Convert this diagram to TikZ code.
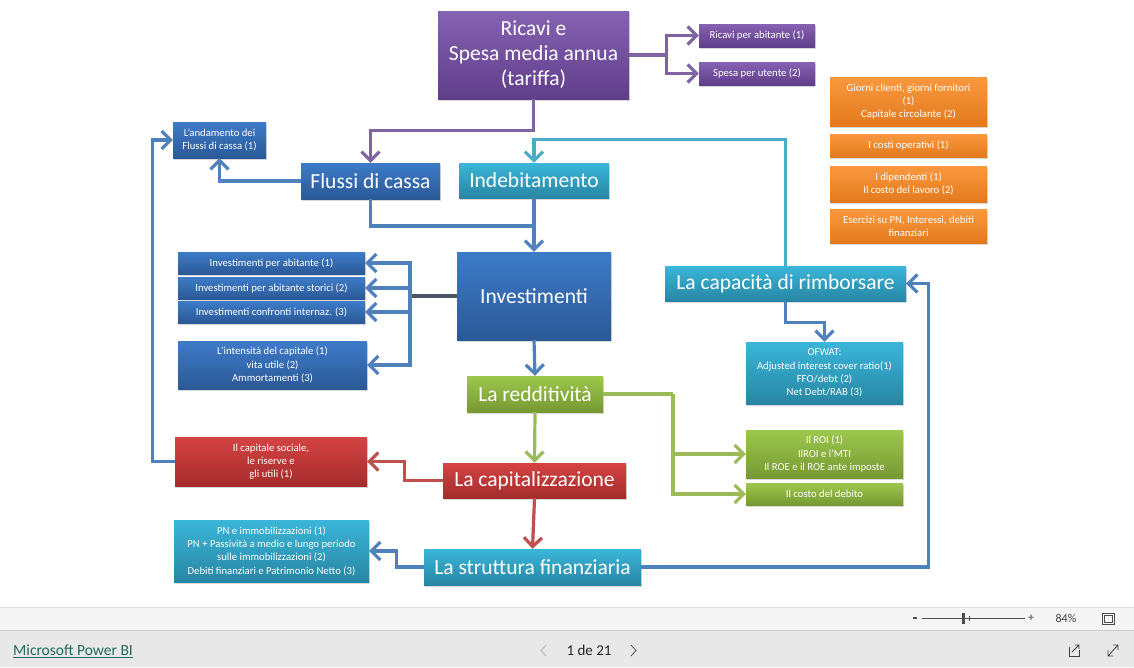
\documentclass[tikz,border=0pt]{standalone}
\usepackage{fontspec}
\setmainfont{Carlito}
\usepackage{tikz}
\usetikzlibrary{arrows.meta,shadows}
\definecolor{purpleT}{HTML}{8662B2}
\definecolor{purpleB}{HTML}{5F3E8A}
\definecolor{blueT}{HTML}{3D7BC8}
\definecolor{blueB}{HTML}{2B5997}
\definecolor{cyanT}{HTML}{3AB6D9}
\definecolor{cyanB}{HTML}{2886A4}
\definecolor{greenT}{HTML}{9DC74C}
\definecolor{greenB}{HTML}{769933}
\definecolor{redT}{HTML}{D54343}
\definecolor{redB}{HTML}{A42C2C}
\definecolor{orangeT}{HTML}{FA983F}
\definecolor{orangeB}{HTML}{E37A1D}
\definecolor{linkpurple}{HTML}{8064A2}
\definecolor{linkblue}{HTML}{4F81BD}
\definecolor{linkcyan}{HTML}{4BACC6}
\definecolor{linkgreen}{HTML}{9BBB59}
\definecolor{linkred}{HTML}{C0504D}
\definecolor{splitgray}{HTML}{4A5866}
\definecolor{pbigreen}{HTML}{1F6B5C}
\tikzstyle{basebox}=[rectangle,%
                     text=white,%
                     align=center,%
                     inner sep=1pt,%
                     drop shadow={opacity=0.3,shadow xshift=1.2pt,shadow yshift=-1.6pt}]
\tikzstyle{bignode}=[basebox, font=\fontsize{21.5}{25}\selectfont]
\tikzstyle{smallnode}=[basebox, font=\fontsize{10.7}{13.3}\selectfont]
\tikzstyle{purplebox}=[top color=purpleT, bottom color=purpleB]
\tikzstyle{bluebox}=[top color=blueT, bottom color=blueB]
\tikzstyle{cyanbox}=[top color=cyanT, bottom color=cyanB]
\tikzstyle{greenbox}=[top color=greenT, bottom color=greenB]
\tikzstyle{redbox}=[top color=redT, bottom color=redB]
\tikzstyle{orangebox}=[top color=orangeT, bottom color=orangeB]
\tikzstyle{plain}=[line width=3.2pt]
\tikzstyle{link}=[plain, -{Straight Barb[length=9pt,width=18pt]}]

\begin{document}
\begin{tikzpicture}[x=1pt,y=-1pt]
            \useasboundingbox (0,0) rectangle (1134,667);
            \fill[white] (0,0) rectangle (1134,607);

            \node[bignode,purplebox,minimum width=191pt,minimum height=88pt] (ricavi) at (533.5,55) {Ricavi e\\Spesa media annua\\(tariffa)};
            \node[smallnode,purplebox,minimum width=116pt,minimum height=23pt] (rpa) at (757,35.5) {Ricavi per abitante (1)};
            \node[smallnode,purplebox,minimum width=116pt,minimum height=23pt] (spu) at (757,73.5) {Spesa per utente (2)};

            \node[smallnode,orangebox,minimum width=157pt,minimum height=49pt] (giorni) at (908.5,101.5) {Giorni clienti, giorni fornitori\\(1)\\Capitale circolante (2)};
            \node[smallnode,orangebox,minimum width=157pt,minimum height=23pt] (costi) at (908.5,145.5) {I costi operativi (1)};
            \node[smallnode,orangebox,minimum width=157pt,minimum height=36pt] (dipend) at (908.5,184) {I dipendenti (1)\\Il costo del lavoro (2)};
            \node[smallnode,orangebox,minimum width=157pt,minimum height=34pt] (esercizi) at (908.5,226) {Esercizi su PN, Interessi, debiti\\finanziari};

            \node[smallnode,bluebox,minimum width=93pt,minimum height=36pt] (andam) at (219.5,140) {L’andamento dei\\Flussi di cassa (1)};
            \node[bignode,bluebox,minimum width=139pt,minimum height=36pt] (flussi) at (370.5,181) {Flussi di cassa};
            \node[bignode,cyanbox,minimum width=150pt,minimum height=35pt] (indeb) at (534,180.5) {Indebitamento};
            \node[bignode,bluebox,minimum width=154pt,minimum height=88pt] (invest) at (534,296) {Investimenti};

            \node[smallnode,bluebox,minimum width=187pt,minimum height=22pt] (invab) at (271.5,263) {Investimenti per abitante (1)};
            \node[smallnode,bluebox,minimum width=187pt,minimum height=22pt] (invstor) at (271.5,288) {Investimenti per abitante storici (2)};
            \node[smallnode,bluebox,minimum width=187pt,minimum height=22pt] (invconf) at (271.5,312) {Investimenti confronti internaz. (3)};
            \node[smallnode,bluebox,minimum width=189pt,minimum height=48pt] (intens) at (272.5,365) {L’intensità del capitale (1)\\vita utile (2)\\Ammortamenti (3)};

            \node[bignode,cyanbox,minimum width=241pt,minimum height=35pt] (capac) at (785.5,283.5) {La capacità di rimborsare};
            \node[smallnode,cyanbox,minimum width=157pt,minimum height=62pt] (ofwat) at (824.5,373) {OFWAT:\\Adjusted interest cover ratio(1)\\FFO/debt (2)\\Net Debt/RAB (3)};

            \node[bignode,greenbox,minimum width=136pt,minimum height=36pt] (redd) at (535,394) {La redditività};
            \node[smallnode,greenbox,minimum width=157pt,minimum height=48pt] (roi) at (824.5,454) {Il ROI (1)\\IlROI e l’MTI\\Il ROE e il ROE ante imposte};
            \node[smallnode,greenbox,minimum width=157pt,minimum height=22pt] (costodeb) at (824.5,494) {Il costo del debito};

            \node[smallnode,redbox,minimum width=192pt,minimum height=49pt] (capsoc) at (271,461.5) {Il capitale sociale,\\le riserve e\\gli utili (1)};
            \node[bignode,redbox,minimum width=183pt,minimum height=35pt] (capit) at (534.5,480.5) {La capitalizzazione};

            \node[smallnode,cyanbox,minimum width=195pt,minimum height=62pt] (pn) at (271.5,551) {PN e immobilizzazioni (1)\\PN + Passività a medio e lungo periodo\\sulle immobilizzazioni (2)\\Debiti finanziari e Patrimonio Netto (3)};
            \node[bignode,cyanbox,minimum width=217pt,minimum height=36pt] (strutt) at (532.5,567) {La struttura finanziaria};

            \coordinate (invsplit) at (410,296);
            \coordinate (reddsplit) at (673,394);
            \coordinate (flussijoin) at (534,226);

            \draw [link,linkpurple] (ricavi.east) -- ++(37,0) |- (rpa.west);
            \draw [link,linkpurple] (ricavi.east) -- ++(37,0) |- (spu.west);
            \draw [link,linkpurple] (ricavi.south) -- ++(0,31) -| (flussi.north);
            \draw [link,linkblue] (flussi.west) -| (andam.south);
            \draw [plain,linkblue] (flussi.south) |- (flussijoin);
            \draw [link,linkblue] (indeb.south) -- (invest.north);
            \draw [link,linkcyan] (capac.north) -- ++(0,-126) -| (indeb.north);
            \draw [link,linkblue] (capac.south) -- ++(0,21) -| (ofwat.north);
            \draw [plain,splitgray] (invest.west) -- (invsplit);
            \draw [link,linkblue] (invsplit) |- (invab.east);
            \draw [link,linkblue] (invsplit) |- (invstor.east);
            \draw [link,linkblue] (invsplit) |- (invconf.east);
            \draw [link,linkblue] (invsplit) |- (intens.east);
            \draw [link,linkblue] (invest.south) -- (redd.north);
            \draw [plain,linkgreen] (redd.east) -- (reddsplit);
            \draw [link,linkgreen] (reddsplit) |- (roi.west);
            \draw [link,linkgreen] (reddsplit) |- (costodeb.west);
            \draw [link,linkgreen] (redd.south) -- (capit.north);
            \draw [link,linkred] (capit.west) -- ++(-38,0) |- (capsoc.east);
            \draw [link,linkred] (capit.south) -- (strutt.north);
            \draw [link,linkblue] (strutt.west) -- ++(-27,0) |- (pn.east);
            \draw [link,linkblue] (strutt.east) -- ++(287,0) |- (capac.east);
            \draw [link,linkblue,{Straight Barb[length=9pt,width=18pt]}-] (andam.west) -- ++(-20,0) |- (capsoc.west);

            \fill[black!4] (0,607) rectangle (1134,630);
            \fill[black!9] (0,630) rectangle (1134,667);
            \draw[black!13] (0,607) -- (1134,607);
            \draw[black!20] (0,630) -- (1134,630);
            \fill[black!70] (913,617) rectangle (917,619);
            \draw[black!70,line width=0.8pt] (922,618) -- (1025,618);
            \fill[black!70] (962,613) rectangle (965,624);
            \draw[black!70,line width=0.6pt] (969,615.5) -- (969,620.5);
            \node[font=\fontsize{12}{13}\selectfont,text=black!75] (plus) at (1031,618) {+};
            \node[font=\fontsize{12}{13}\selectfont,text=black!75] (zoompct) at (1066,618.5) {84\%};
            \draw[black!70,line width=0.7pt] (1102,613) rectangle (1114,624);
            \draw[black!70,line width=0.5pt] (1104,615) rectangle (1112,622);
            \node[font=\fontsize{15.5}{17}\selectfont,text=pbigreen,anchor=west,inner sep=0pt] (pbi) at (13,651) {\underline{Microsoft Power BI}};
            \draw[black!30,line width=0.8pt] (546,645) -- (541,650.5) -- (546,656);
            \node[font=\fontsize{15}{17}\selectfont,text=black!85] (pagina) at (589,650.5) {1 de 21};
            \draw[black!70,line width=0.8pt] (631,645) -- (636,650.5) -- (631,656);
            \draw[black!75,line width=0.8pt] (1069,647) -- (1069,656) -- (1079,656) -- (1079,650);
            \draw[black!75,line width=0.8pt] (1072,652) -- (1079,645) (1075,645) -- (1079,645) -- (1079,649);
            \draw[black!75,line width=0.8pt] (1108,656) -- (1118,645) (1108,650) -- (1108,656) -- (1113,656) (1113,645) -- (1118,645) -- (1118,650);
\end{tikzpicture}
\end{document}
